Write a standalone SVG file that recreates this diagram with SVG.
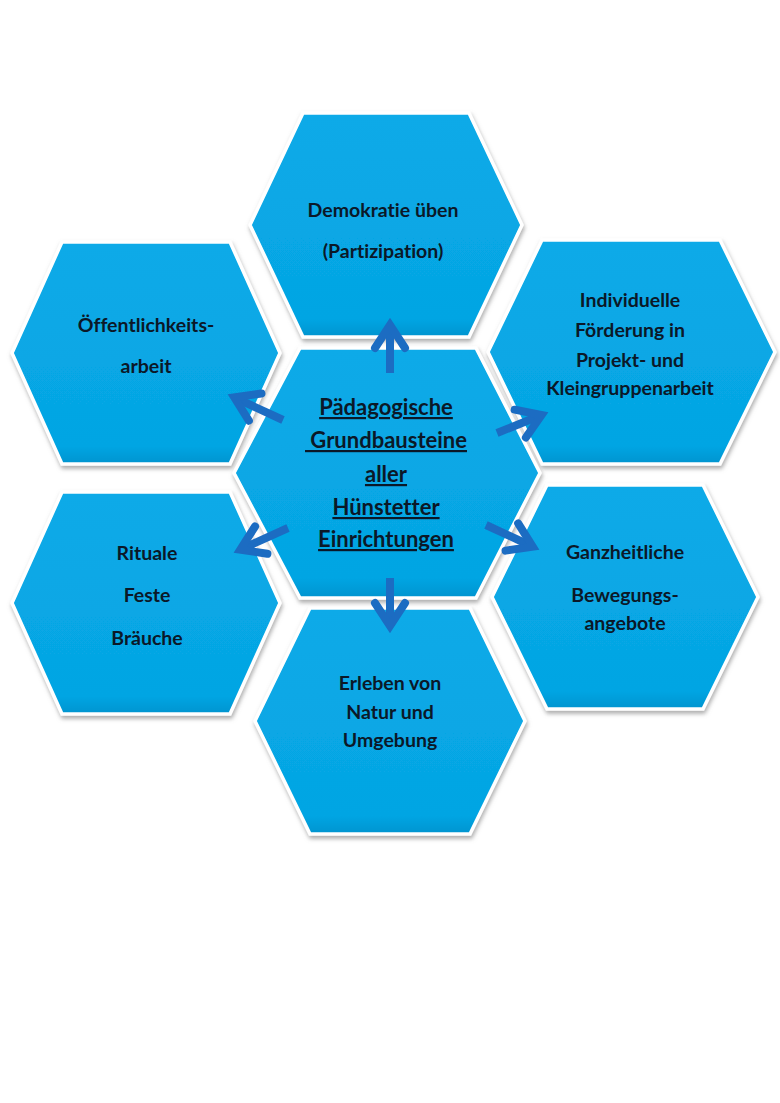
<svg xmlns="http://www.w3.org/2000/svg" width="780" height="1103" viewBox="0 0 780 1103">
<style>
.hex{fill:url(#hg);stroke:#ffffff;stroke-width:3.5;stroke-linejoin:miter;filter:url(#sh)}
.t{font-family:Lato,"Open Sans","Liberation Sans",sans-serif;font-weight:bold;font-size:19.5px;fill:#0b1828;text-anchor:middle;font-variant-ligatures:none}
.c{font-size:22px;text-decoration:underline;white-space:pre}
.arr{stroke:#1c6cc2;stroke-width:8;fill:none;marker-end:url(#ah)}
</style>
<defs>
<linearGradient id="hg" x1="0" y1="0" x2="0" y2="1">
<stop offset="0" stop-color="#0aaae8"/>
<stop offset="0.92" stop-color="#05a5e3"/>
<stop offset="1" stop-color="#0494cf"/>
</linearGradient>
<filter id="sh" x="-10%" y="-10%" width="120%" height="125%">
<feDropShadow dx="1" dy="3" stdDeviation="2" flood-color="#777" flood-opacity="0.6"/>
</filter>
<marker id="ah" markerUnits="userSpaceOnUse" viewBox="-30 -25 50 50" refX="0" refY="0" markerWidth="50" markerHeight="50" orient="auto" overflow="visible">
<polyline points="-19,-15 4,0 -19,15" fill="none" stroke="#1c6cc2" stroke-width="8" stroke-linejoin="miter" stroke-linecap="round"/>
</marker>
</defs>
<rect width="780" height="1103" fill="#ffffff"/>

<g id="hex-top">
<polygon class="hex" points="303,113 469,113 522,225 469,337 303,337 250,225"/>
<text class="t" x="383" y="217">Demokratie üben</text>
<text class="t" x="383" y="258">(Partizipation)</text>
</g>
<g id="hex-upper-left">
<polygon class="hex" points="62,242 230,242 280,353 230,464 62,464 12,353"/>
<text class="t" x="146" y="332">Öffentlichkeits-</text>
<text class="t" x="146" y="373">arbeit</text>
</g>
<g id="hex-upper-right">
<polygon class="hex" points="542,240 720,240 775,352 720,464 542,464 488,352"/>
<text class="t" x="630" y="307">Individuelle</text>
<text class="t" x="630" y="337">Förderung in</text>
<text class="t" x="630" y="367">Projekt- und</text>
<text class="t" x="630" y="395">Kleingruppenarbeit</text>
</g>
<g id="hex-lower-left">
<polygon class="hex" points="62,492 230,492 280,603 230,714 62,714 12,603"/>
<text class="t" x="147" y="560">Rituale</text>
<text class="t" x="147" y="602">Feste</text>
<text class="t" x="147" y="645">Bräuche</text>
</g>
<g id="hex-lower-right">
<polygon class="hex" points="547,485 703,485 758,597 703,709 547,709 492,597"/>
<text class="t" x="625" y="559">Ganzheitliche</text>
<text class="t" x="625" y="602">Bewegungs-</text>
<text class="t" x="625" y="630">angebote</text>
</g>
<g id="hex-bottom">
<polygon class="hex" points="310,608 470,608 525,721 470,834 310,834 255,721"/>
<text class="t" x="390" y="690">Erleben von</text>
<text class="t" x="390" y="719">Natur und</text>
<text class="t" x="390" y="747">Umgebung</text>
</g>
<g id="hex-center">
<polygon class="hex" points="300,348 476,348 540,473 476,598 300,598 234,473"/>
<text class="t c" x="386" y="415">Pädagogische</text>
<text class="t c" x="386" y="448"> Grundbausteine</text>
<text class="t c" x="386" y="482">aller</text>
<text class="t c" x="386" y="515">Hünstetter</text>
<text class="t c" x="386" y="547">Einrichtungen</text>
</g>

<g id="connectors">
<line class="arr" x1="390" y1="373" x2="390" y2="329"/>
<line class="arr" x1="390" y1="578" x2="390" y2="622"/>
<line class="arr" x1="283" y1="420" x2="237.9" y2="399.1"/>
<line class="arr" x1="497" y1="433" x2="537.9" y2="416.5"/>
<line class="arr" x1="288" y1="528" x2="243.9" y2="548"/>
<line class="arr" x1="486" y1="525" x2="529.1" y2="545"/>
</g>
</svg>
